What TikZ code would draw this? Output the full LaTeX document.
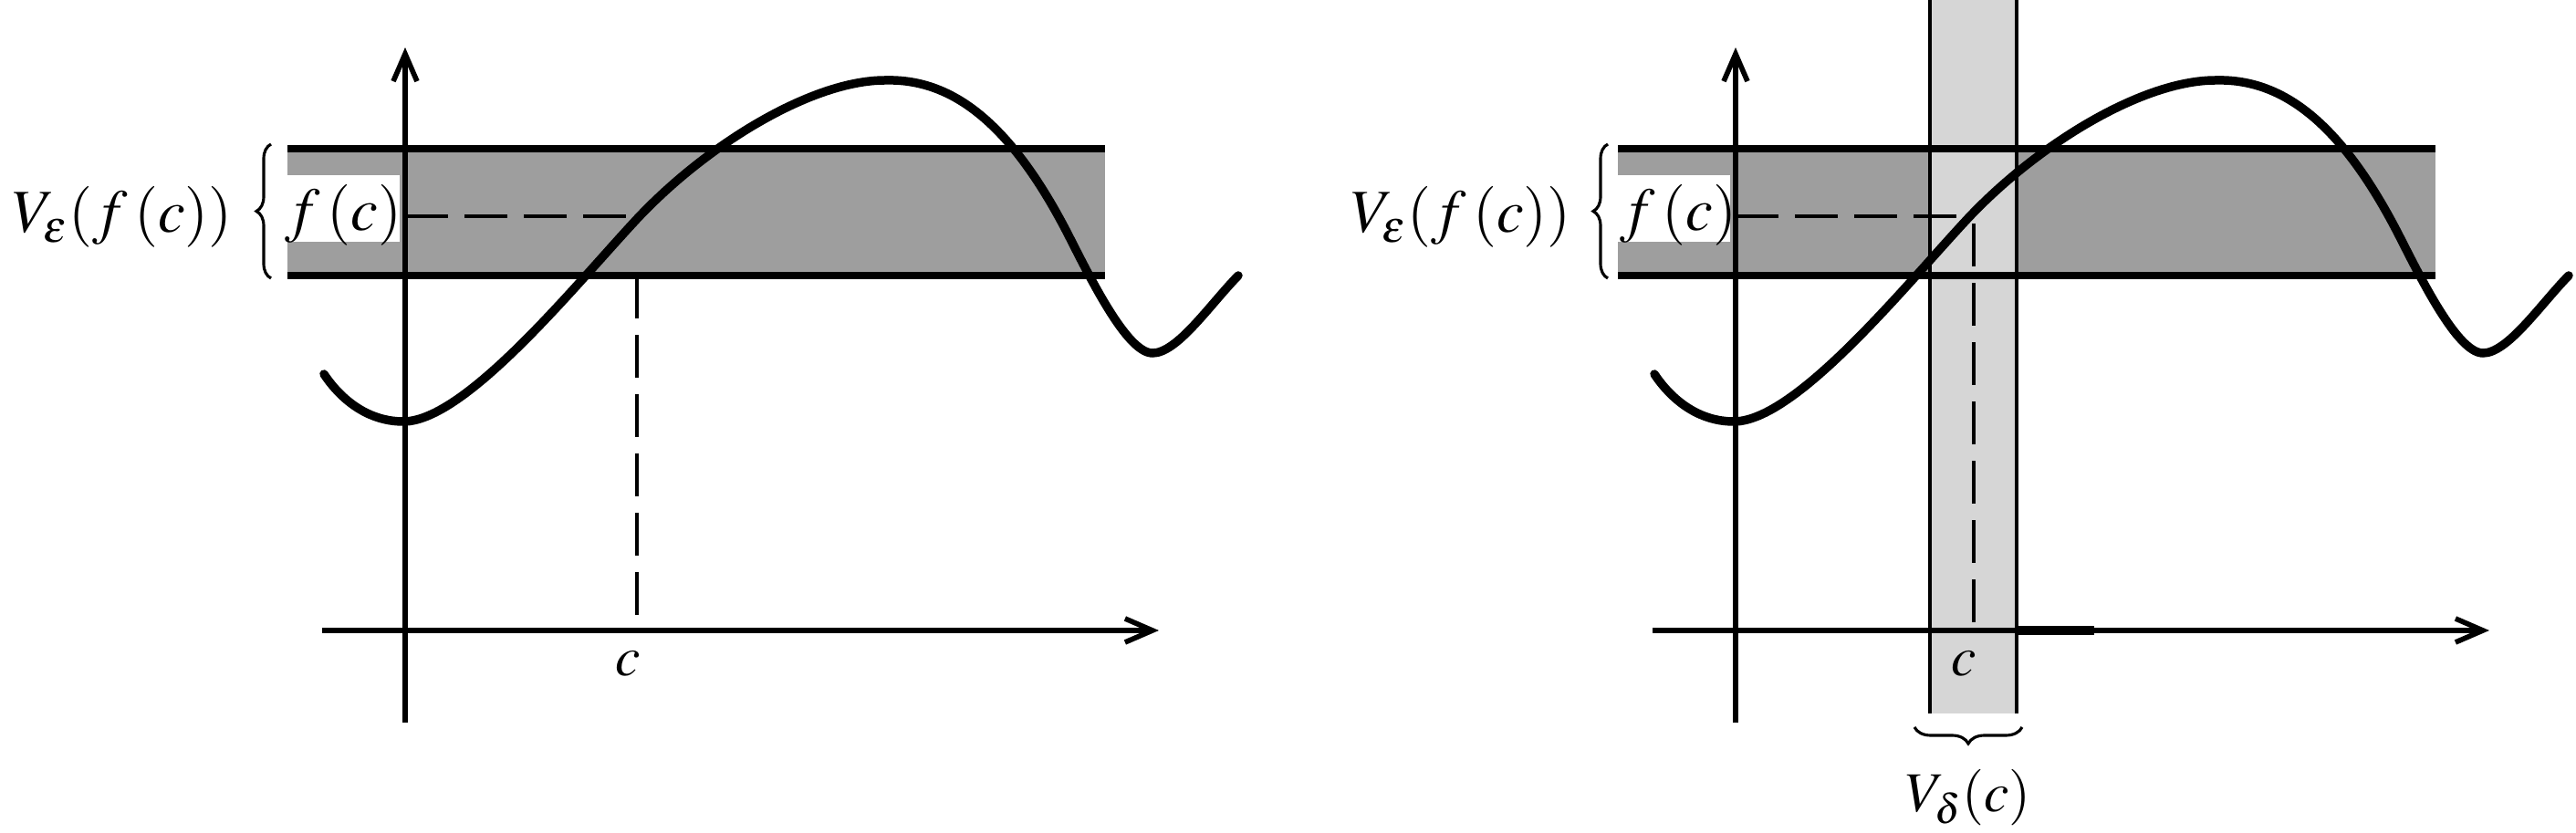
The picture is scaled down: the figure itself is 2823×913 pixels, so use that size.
\documentclass[tikz,border=0pt]{standalone}
\usepackage{mathptmx}
\usetikzlibrary{arrows.meta,decorations.pathreplacing}
\newcommand\fcurvepath{(355,410) .. controls (375,440) and (405,462) .. (442,462)
  .. controls (510,462) and (630,313) .. (698,240)
  .. controls (775,158) and (890,88) .. (970,88)
  .. controls (1040,86) and (1105,130) .. (1170,256)
  .. controls (1195,305) and (1235,387) .. (1263,387)
  .. controls (1290,387) and (1325,335) .. (1357,302)}
\begin{document}
\begin{tikzpicture}[x=0.01cm,y=-0.01cm,
  axisline/.style={line width=1.6pt,-{Straight Barb[length=0.3cm,width=0.26cm,line width=1.6pt]}},
  bandfill/.style={fill=black!38},
  stripfill/.style={fill=black!16},
  bandline/.style={line width=2.3pt},
  stripline/.style={line width=1.4pt},
  dashline/.style={line width=1.4pt,dash pattern=on 0.47cm off 0.18cm},
  curveline/.style={line width=2.7pt,line cap=round},
  bracel/.style={line width=0.9pt,decorate},
  lbl/.style={inner sep=0pt,font=\fontsize{19}{22}\selectfont},
  slbl/.style={inner sep=0pt,font=\fontsize{17.5}{20}\selectfont}]
\useasboundingbox (0,0) rectangle (2823,913);

% ---------------- left panel ----------------
\fill[bandfill] (315,163) rectangle (1211,302);
\fill[white] (315,192) rectangle (438,265);
\draw[bandline] (315,163) -- (1211,163);
\draw[bandline] (315,302) -- (1211,302);
\coordinate (yLb) at (444,792);
\coordinate (yLt) at (444,52);
\coordinate (xLl) at (353,691);
\coordinate (xLr) at (1270,691);
\draw[axisline] (yLb) -- (yLt);
\draw[axisline] (xLl) -- (xLr);
\coordinate (fcL) at (698,237);
\coordinate (fcLy) at (444,237);
\coordinate (bcL) at (698,302);
\coordinate (cL) at (698,691);
\draw[dashline] (fcLy) -- (fcL);
\draw[dashline] (bcL) -- (cL);
\draw[curveline] \fcurvepath;
\draw[bracel,decoration={brace,amplitude=0.16cm}] (297,305) -- (297,158);
\node[lbl,anchor=base west] (veL) at (13,255) {$V_{\varepsilon}(f\,(c))$};
\node[lbl,anchor=base west] (fL) at (312,253) {$f\,(c)$};
\node[slbl,anchor=base] (cLl) at (688,741) {$c$};

% ---------------- right panel ----------------
\begin{scope}[shift={(1458,0)}]
\fill[bandfill] (315,163) rectangle (1211,302);
\fill[white] (315,192) rectangle (438,265);
\end{scope}
\fill[stripfill] (2115,0) rectangle (2210,782);
\begin{scope}[shift={(1458,0)}]
\draw[bandline] (315,163) -- (1211,163);
\draw[bandline] (315,302) -- (1211,302);
\end{scope}
\draw[stripline] (2115,0) -- (2115,782);
\draw[stripline] (2210,0) -- (2210,782);
\coordinate (yRb) at (1902,792);
\coordinate (yRt) at (1902,52);
\coordinate (xRl) at (1811,691);
\coordinate (xRr) at (2728,691);
\draw[axisline] (yRb) -- (yRt);
\draw[axisline] (xRl) -- (xRr);
\coordinate (thA) at (2210,691);
\coordinate (thB) at (2295,691);
\draw[line width=2.6pt] (thA) -- (thB);
\coordinate (fcR) at (2156,237);
\coordinate (fcRy) at (1902,237);
\coordinate (fcRv) at (2163,245);
\coordinate (cR) at (2163,691);
\draw[dashline] (fcRy) -- (fcR);
\draw[dashline] (fcRv) -- (cR);
\begin{scope}[shift={(1458,0)}]
\draw[curveline] \fcurvepath;
\end{scope}
\draw[bracel,decoration={brace,amplitude=0.16cm}] (1762,305) -- (1762,158);
\node[lbl,anchor=base west] (veR) at (1480,255) {$V_{\varepsilon}(f\,(c))$};
\node[lbl,anchor=base west] (fR) at (1775,253) {$f\,(c)$};
\node[slbl,anchor=base] (cRl) at (2152,741) {$c$};
\draw[bracel,decoration={brace,mirror,amplitude=0.18cm}] (2098,797) -- (2216,797);
\node[slbl,anchor=base] (vd) at (2157,890) {$V_{\delta}(c)$};
\end{tikzpicture}
\end{document}
